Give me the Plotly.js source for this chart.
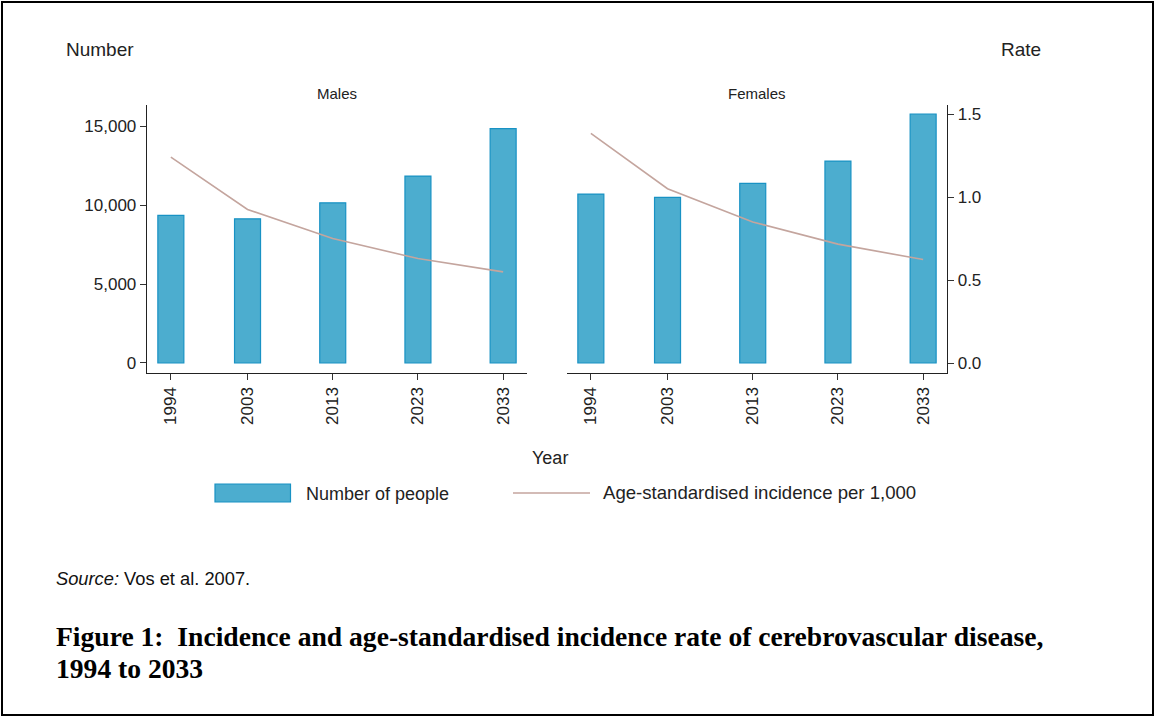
<!DOCTYPE html>
<html>
<head>
<meta charset="utf-8">
<script src="https://cdn.plot.ly/plotly-3.0.1.min.js"></script>
<style>
html,body{margin:0;padding:0;background:#fff;}
#chart{width:1155px;height:717px;}
</style>
</head>
<body>
<div id="chart"></div>
<script>
// ---- data ----
const years = [1994, 2003, 2013, 2023, 2033];
const yearLabels = ['1994', '2003', '2013', '2023', '2033'];
const malesNumber = [9340, 9125, 10140, 11830, 14830];
const femalesNumber = [10690, 10480, 11370, 12780, 15760];
const malesRate = [1.242, 0.926, 0.751, 0.630, 0.550];
const femalesRate = [1.385, 1.051, 0.851, 0.717, 0.624];
const panelTitles = ['Males', 'Females'];
const seriesNames = ['Number of people', 'Age-standardised incidence per 1,000'];

// ---- layout geometry ----
const W = 1155, H = 717;
const L = 147, R = 947, T = 105, B = 373;
const PW = R - L, PH = B - T;
function px(x){ return (x - L) / PW; }
function py(y){ return (B - y) / PH; }

const barColor = 'rgb(76,173,207)';
const barLine = 'rgb(24,146,196)';
const lineColor = 'rgb(196,165,158)';
const font = 'Liberation Sans, Arial, sans-serif';
const serif = 'Liberation Serif, Times New Roman, serif';
const txt = '#222';

const barW = years.map(() => 3.05);

const traces = [
  {type:'bar', x: years, y: malesNumber, xaxis:'x', yaxis:'y', width: barW,
   marker:{color: barColor, line:{color: barLine, width:1.2}}, name: seriesNames[0], showlegend:false},
  {type:'bar', x: years, y: femalesNumber, xaxis:'x2', yaxis:'y', width: barW,
   marker:{color: barColor, line:{color: barLine, width:1.2}}, name: seriesNames[0], showlegend:false},
  {type:'scatter', mode:'lines', x: years, y: malesRate, xaxis:'x', yaxis:'y2',
   line:{color: lineColor, width:1.6}, name: seriesNames[1], showlegend:false},
  {type:'scatter', mode:'lines', x: years, y: femalesRate, xaxis:'x2', yaxis:'y2',
   line:{color: lineColor, width:1.6}, name: seriesNames[1], showlegend:false}
];

const xCommon = {
  range:[1991.2, 2035.8], tickmode:'array', tickvals: years, ticktext: yearLabels,
  tickangle:-90, ticks:'outside', ticklen:6, tickcolor:'#333', showgrid:false, zeroline:false,
  showline:true, linecolor:'#222', linewidth:1.3, tickfont:{family:font, size:17, color:txt}
};

const layout = {
  width: W, height: H,
  margin:{l:L, r:W-R, t:T, b:H-B, pad:0},
  paper_bgcolor:'#fff', plot_bgcolor:'rgba(0,0,0,0)',
  showlegend:false, barmode:'overlay',
  xaxis: Object.assign({}, xCommon, {domain:[0, px(527)], anchor:'y'}),
  xaxis2: Object.assign({}, xCommon, {domain:[px(567), 1], anchor:'y'}),
  yaxis: {
    range:[-634, 16331], tickvals:[0,5000,10000,15000], ticktext:['0','5,000','10,000','15,000'],
    ticks:'outside', ticklen:6, tickcolor:'#333', showgrid:false, zeroline:false,
    showline:true, linecolor:'#222', linewidth:1.3, anchor:'x',
    tickfont:{family:font, size:17, color:txt}
  },
  yaxis2: {
    range:[-0.060, 1.556], tickvals:[0,0.5,1,1.5], ticktext:['0.0','0.5','1.0','1.5'],
    overlaying:'y', side:'right', anchor:'x2',
    ticks:'outside', ticklen:6, tickcolor:'#333', showgrid:false, zeroline:false,
    showline:true, linecolor:'#222', linewidth:1.3,
    tickfont:{family:font, size:17, color:txt}
  },
  shapes: [
    {type:'rect', xref:'paper', yref:'paper', x0:px(2), x1:px(1153), y0:py(2), y1:py(715),
     line:{color:'#000', width:2}, fillcolor:'rgba(0,0,0,0)', layer:'below'},
    {type:'rect', xref:'paper', yref:'paper', x0:px(215), x1:px(290.5), y0:py(484), y1:py(502),
     line:{color: barLine, width:1.2}, fillcolor: barColor},
    {type:'line', xref:'paper', yref:'paper', x0:px(513), x1:px(590), y0:py(493), y1:py(493),
     line:{color: lineColor, width:1.6}}
  ],
  annotations: [
    {text:'Number', xref:'paper', yref:'paper', x:px(100), y:py(50), showarrow:false,
     xanchor:'center', yanchor:'middle', font:{family:font, size:19, color:txt}},
    {text:'Rate', xref:'paper', yref:'paper', x:px(1021), y:py(50), showarrow:false,
     xanchor:'center', yanchor:'middle', font:{family:font, size:19, color:txt}},
    {text:panelTitles[0], xref:'paper', yref:'paper', x:px(337), y:py(94), showarrow:false,
     xanchor:'center', yanchor:'middle', font:{family:font, size:15, color:txt}},
    {text:panelTitles[1], xref:'paper', yref:'paper', x:px(757), y:py(94), showarrow:false,
     xanchor:'center', yanchor:'middle', font:{family:font, size:15, color:txt}},
    {text:'Year', xref:'paper', yref:'paper', x:px(550), y:py(458), showarrow:false,
     xanchor:'center', yanchor:'middle', font:{family:font, size:18, color:txt}},
    {text:seriesNames[0], xref:'paper', yref:'paper', x:px(304), y:py(494), showarrow:false,
     xanchor:'left', yanchor:'middle', font:{family:font, size:18, color:txt}},
    {text:seriesNames[1], xref:'paper', yref:'paper', x:px(601), y:py(492), showarrow:false,
     xanchor:'left', yanchor:'middle', font:{family:font, size:18.6, color:txt}},
    {text:'<i>Source:</i> Vos et al. 2007.', xref:'paper', yref:'paper', x:px(54), y:py(578), showarrow:false,
     xanchor:'left', yanchor:'middle', font:{family:font, size:18.3, color:'#111'}},
    {text:'<b>Figure 1:  Incidence and age-standardised incidence rate of cerebrovascular disease,</b>',
     xref:'paper', yref:'paper', x:px(54), y:py(636), showarrow:false, align:'left',
     xanchor:'left', yanchor:'middle', font:{family:serif, size:27.6, color:'#000'}},
    {text:'<b>1994 to 2033</b>',
     xref:'paper', yref:'paper', x:px(54), y:py(668), showarrow:false, align:'left',
     xanchor:'left', yanchor:'middle', font:{family:serif, size:27.6, color:'#000'}}
  ]
};

Plotly.newPlot('chart', traces, layout, {displayModeBar:false, staticPlot:true});
</script>
</body>
</html>
